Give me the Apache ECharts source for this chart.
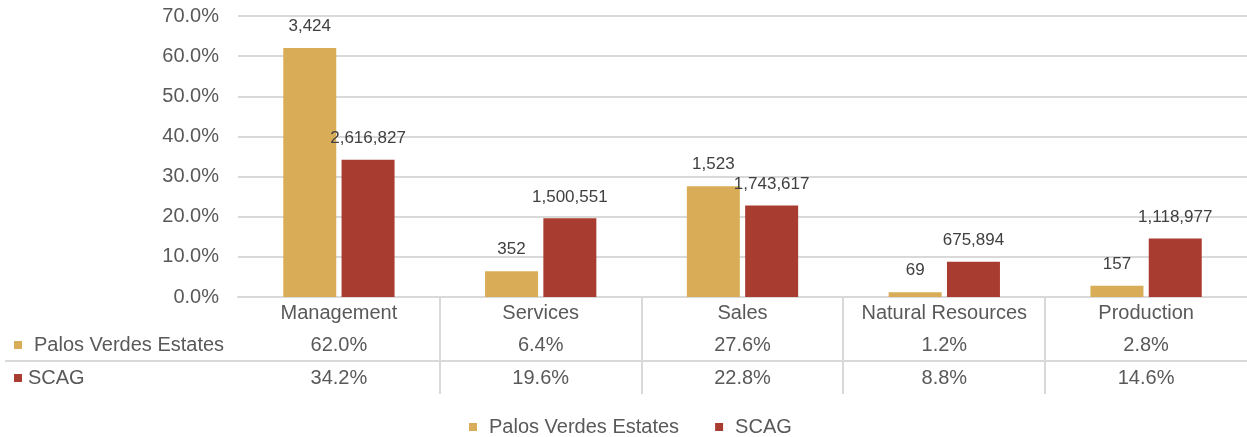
<!DOCTYPE html>
<html>
<head>
<meta charset="utf-8">
<script src="https://cdn.jsdelivr.net/npm/echarts@6/dist/echarts.min.js"></script>
<style>
  html, body { margin: 0; padding: 0; background: #fff; }
  #chart { width: 1247px; height: 437px; }
</style>
</head>
<body>
<div id="chart"></div>
<script>
//data
let categories = ["Management", "Services", "Sales", "Natural Resources", "Production"];
let pvePct = [62.0, 6.4, 27.6, 1.2, 2.8];
let scagPct = [34.2, 19.6, 22.8, 8.8, 14.6];
let pveCount = ["3,424", "352", "1,523", "69", "157"];
let scagCount = ["2,616,827", "1,500,551", "1,743,617", "675,894", "1,118,977"];
let yTicks = { min: 0, max: 70, interval: 10 };

let gold = "#D9AD57";
let red = "#A93C31";
let textColor = "#595959";
let lineColor = "#D9D9D9";
let font = "Liberation Sans";

let chart = echarts.init(document.getElementById('chart'));

let gridLeft = 238;
let gridRight = 0;

function pct(v) {
    return v.toFixed(1) + "%";
}

function tableAxis(values, offset) {
    return {
        type: "category",
        position: "bottom",
        offset: offset,
        data: values.map(pct),
        axisLine: { show: false },
        axisTick: { show: false },
        axisLabel: { interval: 0, color: textColor, fontSize: 20, fontFamily: font, margin: 6 }
    };
}

let option = {
    animation: false,
    grid: { left: gridLeft, right: gridRight, top: 16, bottom: 140, containLabel: false },
    legend: {
        top: 412,
        left: 464,
        icon: "rect",
        itemWidth: 8,
        itemHeight: 8,
        itemGap: 36,
        textStyle: { color: textColor, fontSize: 20, fontFamily: font, padding: [0, 0, 0, 7] },
        data: ["Palos Verdes Estates", "SCAG"]
    },
    xAxis: [
        {
            type: "category",
            data: categories,
            axisLine: { lineStyle: { color: lineColor, width: 2 } },
            axisTick: { show: false },
            axisLabel: { interval: 0, color: textColor, fontSize: 20, fontFamily: font, margin: 6 }
        },
        tableAxis(pvePct, 32),
        tableAxis(scagPct, 65)
    ],
    yAxis: {
        type: "value",
        min: yTicks.min,
        max: yTicks.max,
        interval: yTicks.interval,
        axisLabel: {
            color: textColor, fontSize: 20, fontFamily: font, margin: 19,
            formatter: function (v) { return v.toFixed(1) + "%"; }
        },
        splitLine: { lineStyle: { color: lineColor, width: 2 } }
    },
    series: [
        {
            name: "Palos Verdes Estates",
            type: "bar",
            data: pvePct,
            barWidth: 53,
            barGap: "10%",
            itemStyle: { color: gold },
            label: {
                show: true, position: "top", distance: 13,
                color: "#404040", fontSize: 17, fontFamily: font,
                formatter: function (p) { return pveCount[p.dataIndex]; }
            }
        },
        {
            name: "SCAG",
            type: "bar",
            data: scagPct,
            barWidth: 53,
            barGap: "10%",
            itemStyle: { color: red },
            label: {
                show: true, position: "top", distance: 13,
                color: "#404040", fontSize: 17, fontFamily: font,
                formatter: function (p) { return scagCount[p.dataIndex]; }
            }
        }
    ]
};

chart.setOption(option);

//table lines and row labels
let w = chart.getWidth();
let step = (w - gridLeft - gridRight) / categories.length;
let graphics = [];
for (let i = 1; i < categories.length; i++) {
    let x = Math.round(gridLeft + i * step);
    graphics.push({ type: "line", shape: { x1: x, y1: 297, x2: x, y2: 394 }, style: { stroke: lineColor, lineWidth: 2 } });
}
graphics.push({ type: "line", shape: { x1: 5, y1: 361, x2: w, y2: 361 }, style: { stroke: lineColor, lineWidth: 2 } });
graphics.push({ type: "rect", shape: { x: 14, y: 341, width: 8, height: 8 }, style: { fill: gold } });
graphics.push({ type: "text", x: 34, y: 345, style: { text: "Palos Verdes Estates", fill: textColor, fontSize: 20, fontFamily: font, verticalAlign: "middle" } });
graphics.push({ type: "rect", shape: { x: 14, y: 374, width: 8, height: 8 }, style: { fill: red } });
graphics.push({ type: "text", x: 28, y: 378, style: { text: "SCAG", fill: textColor, fontSize: 20, fontFamily: font, verticalAlign: "middle" } });

chart.setOption({ graphic: graphics });
</script>
</body>
</html>
